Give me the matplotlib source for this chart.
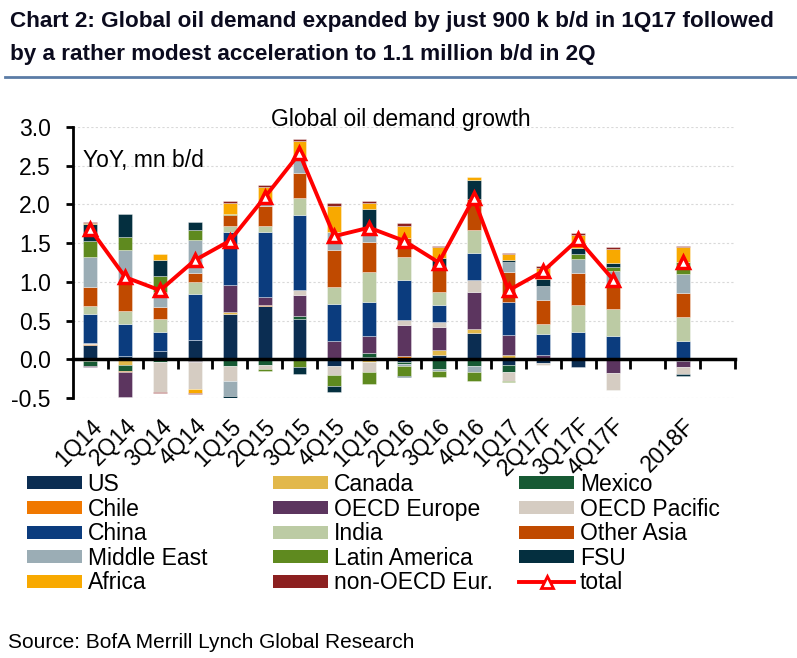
import numpy as np
import matplotlib
matplotlib.use('Agg')
import matplotlib.pyplot as plt
from matplotlib.patches import Patch
from matplotlib.lines import Line2D
from matplotlib import font_manager

nan = np.nan

categories = ['1Q14', '2Q14', '3Q14', '4Q14', '1Q15', '2Q15', '3Q15', '4Q15',
              '1Q16', '2Q16', '3Q16', '4Q16', '1Q17', '2Q17F', '3Q17F', '4Q17F',
              '', '2018F']

us            = [0.185, 0.04, 0.11, 0.25, 0.58, 0.69, 0.52, -0.085, 0.035, -0.04, 0.06, 0.335, -0.07, -0.05, -0.095, 0.0, nan, -0.02]
canada        = [-0.02, -0.08, 0.0, 0.005, 0.025, 0.0, 0.0, 0.0, -0.035, 0.02, 0.065, 0.05, 0.06, 0.0, 0.0, 0.0, nan, 0.0]
mexico        = [-0.07, -0.07, -0.03, -0.02, -0.09, -0.07, 0.035, 0.0, 0.04, -0.02, -0.12, -0.085, -0.10, 0.0, 0.0, 0.0, nan, 0.0]
chile         = [0.01, -0.02, 0.0, 0.0, 0.0, 0.01, 0.0, 0.0, 0.0, 0.02, 0.0, 0.0, 0.0, 0.0, 0.0, 0.01, nan, 0.01]
oecd_europe   = [-0.01, -0.32, -0.01, -0.02, 0.35, 0.11, 0.28, 0.23, 0.22, 0.40, 0.29, 0.49, 0.25, 0.06, 0.0, -0.18, nan, -0.08]
oecd_pacific  = [0.01, 0.0, -0.38, -0.34, -0.19, -0.06, 0.065, -0.12, -0.13, 0.07, 0.065, 0.145, -0.11, -0.02, 0.0, -0.215, nan, -0.095]
china         = [0.38, 0.42, 0.24, 0.59, 0.685, 0.83, 0.96, 0.48, 0.44, 0.52, 0.22, 0.35, 0.43, 0.27, 0.35, 0.285, nan, 0.22]
india         = [0.10, 0.17, 0.17, 0.15, 0.08, 0.08, 0.22, 0.23, 0.39, 0.285, 0.17, 0.305, 0.0, 0.13, 0.35, 0.36, nan, 0.31]
other_asia    = [0.245, 0.35, 0.16, 0.12, 0.14, 0.26, 0.32, 0.47, 0.39, 0.245, 0.30, 0.39, 0.385, 0.305, 0.415, 0.315, nan, 0.31]
middle_east   = [0.39, 0.43, 0.19, 0.42, -0.20, 0.06, 0.17, 0.23, 0.16, -0.03, -0.025, -0.085, 0.13, 0.18, 0.175, 0.17, nan, 0.255]
latin_america = [0.21, 0.17, 0.20, 0.14, 0.02, -0.025, -0.10, -0.14, -0.155, -0.12, -0.085, -0.115, -0.015, 0.0, 0.065, 0.055, nan, 0.15]
fsu           = [0.22, 0.29, 0.21, 0.095, -0.02, 0.0, -0.085, -0.08, 0.26, -0.02, 0.14, 0.25, 0.025, 0.095, 0.085, 0.055, nan, -0.015]
africa        = [0.015, 0.0, 0.08, -0.05, 0.14, 0.185, 0.245, 0.345, 0.085, 0.16, 0.14, 0.04, 0.075, 0.14, 0.16, 0.18, nan, 0.20]
non_oecd_eur  = [0.01, 0.0, -0.01, -0.02, 0.03, 0.03, 0.025, 0.035, 0.02, 0.035, 0.015, 0.0, 0.02, 0.03, 0.03, 0.015, nan, 0.013]
total         = [1.68, 1.06, 0.89, 1.28, 1.53, 2.09, 2.66, 1.59, 1.70, 1.53, 1.25, 2.08, 0.89, 1.14, 1.55, 1.03, nan, 1.26]

series = [
    ('US', us, '#0b2d52'),
    ('Canada', canada, '#e2b84b'),
    ('Mexico', mexico, '#175a34'),
    ('Chile', chile, '#f07800'),
    ('OECD Europe', oecd_europe, '#5c355f'),
    ('OECD Pacific', oecd_pacific, '#d5ccc2'),
    ('China', china, '#0b3c7e'),
    ('India', india, '#bccba4'),
    ('Other Asia', other_asia, '#c04a00'),
    ('Middle East', middle_east, '#9badb5'),
    ('Latin America', latin_america, '#5f8a1f'),
    ('FSU', fsu, '#042f3f'),
    ('Africa', africa, '#f8a900'),
    ('non-OECD Eur.', non_oecd_eur, '#8c2020'),
]

names = {f.name for f in font_manager.fontManager.ttflist}
base_font = 'Liberation Sans' if 'Liberation Sans' in names else 'DejaVu Sans'
title_font = 'Liberation Sans Narrow' if 'Liberation Sans Narrow' in names else base_font
title_size = 18 if title_font == 'Liberation Sans Narrow' else 16.2
plt.rcParams['font.family'] = [base_font, 'DejaVu Sans']

fig = plt.figure(figsize=(7.97, 6.58), dpi=100)
ax = fig.add_axes([73 / 797, 1 - 398 / 658, (735 - 73) / 797, (398 - 127) / 658])

x = np.arange(len(categories))
width = 0.4
pos_base = np.zeros(len(x))
neg_base = np.zeros(len(x))
for name, vals, color in series:
    v = np.nan_to_num(np.array(vals, dtype=float))
    pos = np.where(v > 0, v, 0.0)
    neg = np.where(v < 0, v, 0.0)
    m = pos > 0
    ax.bar(x[m], pos[m], width, bottom=pos_base[m], color=color,
           edgecolor=(1, 1, 1, 0.5), linewidth=0.5, zorder=2)
    m = neg < 0
    ax.bar(x[m], neg[m], width, bottom=neg_base[m], color=color,
           edgecolor=(1, 1, 1, 0.5), linewidth=0.5, zorder=2)
    pos_base += pos
    neg_base += neg

ax.plot(x, total, color='#ff0000', lw=2.8, marker='^', ms=9,
        mfc='white', mec='#ff0000', mew=2.5, zorder=4)

ax.set_xlim(-0.5, 18.5)
ax.set_ylim(-0.5, 3.0)
ax.set_yticks(np.arange(-0.5, 3.01, 0.5))
ax.set_yticklabels(['%.1f' % t for t in np.arange(-0.5, 3.01, 0.5)], fontsize=16.5)
ax.tick_params(axis='y', length=5, width=2, pad=11)
ax.yaxis.grid(True, color='#d9d9d9', linestyle=(0, (2, 2)), linewidth=0.8)
ax.set_axisbelow(True)

for s in ['top', 'right']:
    ax.spines[s].set_visible(False)
ax.spines['left'].set_linewidth(2)
ax.spines['bottom'].set_position(('data', 0))
ax.spines['bottom'].set_linewidth(2.5)
ax.spines['bottom'].set_zorder(3)
ax.set_xticks(np.arange(0.5, 18.6, 1))
ax.tick_params(axis='x', length=7, width=2, labelbottom=False)

sec = ax.secondary_xaxis(0.0)
sec.spines['bottom'].set_visible(False)
sec.set_xticks(x, categories)
sec.tick_params(axis='x', length=0, pad=12, labelsize=16.5)
plt.setp(sec.get_xticklabels(), rotation=45, ha='right', va='top',
         rotation_mode='anchor')

# titles and notes
fig.text(10 / 797, 1 - 27 / 658,
         'Chart 2: Global oil demand expanded by just 900 k b/d in 1Q17 followed',
         family=[title_font, 'DejaVu Sans'], weight='bold', fontsize=title_size,
         color='#0b0b1e', va='baseline')
fig.text(10 / 797, 1 - 60 / 658,
         'by a rather modest acceleration to 1.1 million b/d in 2Q',
         family=[title_font, 'DejaVu Sans'], weight='bold', fontsize=title_size,
         color='#0b0b1e', va='baseline')
fig.add_artist(Line2D([0.006, 1.0], [1 - 77 / 658] * 2, color='#5b7ca6', lw=2))
fig.text(401 / 797, 1 - 126 / 658, 'Global oil demand growth', fontsize=16.5,
         ha='center', va='baseline')
fig.text(83 / 797, 1 - 167 / 658, 'YoY, mn b/d', fontsize=16.5, va='baseline')
fig.text(8 / 797, 1 - 648 / 658, 'Source: BofA Merrill Lynch Global Research',
         fontsize=15, va='baseline')

# legend, three fixed columns like the original
handles = [Patch(facecolor=c, edgecolor='none') for _, _, c in series]
handles.append(Line2D([], [], color='#ff0000', lw=2.8, marker='^', ms=8,
                      mfc='white', mec='#ff0000', mew=2))
labels = [n for n, _, _ in series] + ['total']
col_x = [27, 273, 519]
for c in range(3):
    idx = list(range(c, 15, 3))
    fig.legend([handles[i] for i in idx], [labels[i] for i in idx],
               loc='upper left', bbox_to_anchor=(col_x[c] / 797, 1 - 473 / 658),
               frameon=False, fontsize=16.5, handlelength=2.4, handleheight=0.5,
               handletextpad=0.25, labelspacing=0.07, borderpad=0,
               borderaxespad=0)

fig.savefig('out.png', dpi=100)
